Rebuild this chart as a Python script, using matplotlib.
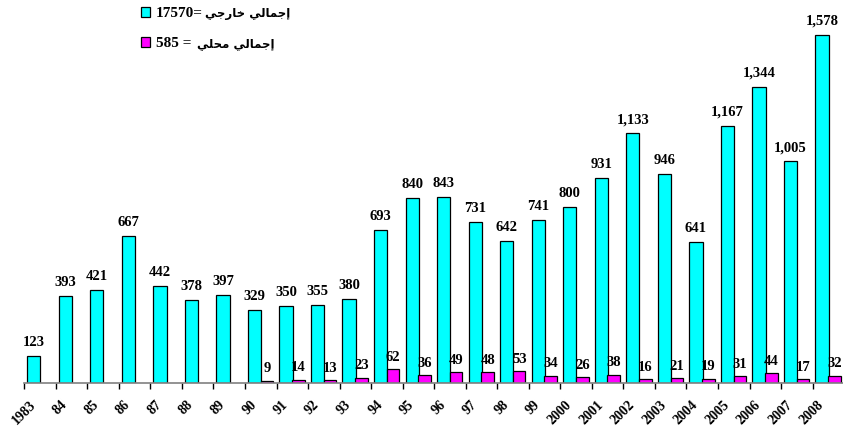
import numpy as np
import matplotlib
matplotlib.use("Agg")
import matplotlib.pyplot as plt
from matplotlib.transforms import ScaledTranslation

plt.rcParams['font.family'] = ['Liberation Serif', 'DejaVu Sans']
plt.rcParams['font.weight'] = 'bold'

years = ['1983', '84', '85', '86', '87', '88', '89', '90', '91', '92', '93', '94', '95',
         '96', '97', '98', '99', '2000', '2001', '2002', '2003', '2004', '2005', '2006',
         '2007', '2008']
external = [123, 393, 421, 667, 442, 378, 397, 329, 350, 355, 380, 693, 840, 843, 731,
            642, 741, 800, 931, 1133, 946, 641, 1167, 1344, 1005, 1578]
# no local figures before 1990
local = [None] * 7 + [9, 14, 13, 23, 62, 36, 49, 48, 53, 34, 26, 38, 16, 21, 19, 31,
                      44, 17, 32]

# legend: number part + Arabic part ("إجمالي خارجي" / "إجمالي محلي")
# Arabic written with presentation forms in visual order (matplotlib does no shaping)
num_ext = "17570="
num_loc = "585 = "
ar_ext = "\uFEF2\uFE9F\uFEAD\uFE8E\uFEA7" + " " + "\uFEF2\uFEDF\uFE8E\uFEE4\uFE9F\uFE87"
ar_loc = "\uFEF2\uFEE0\uFEA4\uFEE3" + " " + "\uFEF2\uFEDF\uFE8E\uFEE4\uFE9F\uFE87"

fig = plt.figure(figsize=(8.43, 4.33), dpi=100)
ax = fig.add_axes([24.3 / 843, 50 / 433, 819.8 / 843, 375 / 433])

x = np.arange(len(years))
b1 = ax.bar(x + 0.30, external, width=0.42, color='#00FFFF', edgecolor='black',
            linewidth=0.9, label=num_ext)
lx = [i for i, v in enumerate(local) if v is not None]
lv = [v for v in local if v is not None]
b2 = ax.bar(np.array(lx) + 0.695, lv, width=0.40, color='#FF00FF', edgecolor='black',
            linewidth=0.9, label=num_loc)

ax.bar_label(b1, labels=[f"{v:,}" for v in external], padding=5, fontsize=10.5,
             fontweight='bold')
ax.bar_label(b2, labels=[str(v) for v in lv], padding=4, fontsize=10.5, fontweight='bold')

ax.set_xlim(0, len(years))
ax.set_ylim(0, 1700)
for s in ['left', 'right', 'top']:
    ax.spines[s].set_visible(False)
ax.spines['bottom'].set_color('#808080')
ax.spines['bottom'].set_linewidth(1.2)
ax.set_yticks([])

ax.set_xticks(x + 0.5)
ax.set_xticklabels(years, rotation=45, ha='right', va='top', rotation_mode='anchor',
                   fontsize=10, fontweight='bold')
ax.tick_params(axis='x', which='major', length=0, pad=11)
ax.set_xticks(np.arange(len(years) + 1), minor=True)
ax.tick_params(axis='x', which='minor', length=4, width=1, color='black', direction='out')
for lab in ax.get_xticklabels():
    lab.set_transform(lab.get_transform() + ScaledTranslation(-0.11, 0, fig.dpi_scale_trans))

leg = ax.legend(loc='upper left', bbox_to_anchor=(134 / 843, 1.0), bbox_transform=fig.transFigure,
                frameon=False, fontsize=11, handlelength=0.6, handleheight=0.6,
                handletextpad=0.4, labelspacing=1.1, borderaxespad=0.05)
# Arabic part drawn after the legend so its position follows the legend text
for t, ar in zip(leg.get_texts(), [ar_ext, ar_loc]):
    ax.annotate(ar, xy=(1, 0.5), xycoords=t, xytext=(1, 0), textcoords='offset points',
                ha='left', va='center', fontsize=8.5, fontweight='bold',
                family='DejaVu Sans', zorder=10, annotation_clip=False)

fig.savefig('out.png', dpi=100)
